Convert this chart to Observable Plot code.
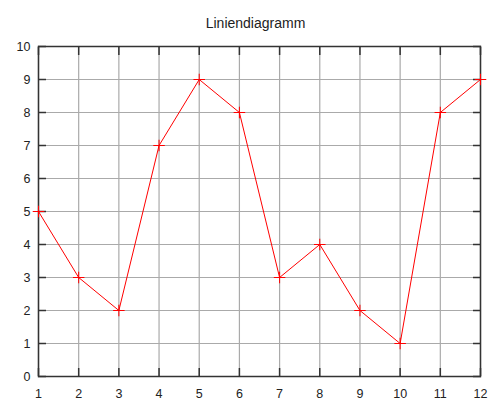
<!DOCTYPE html>
<html>
<head>
<meta charset="utf-8">
<script src="https://cdn.jsdelivr.net/npm/d3@7"></script>
<script src="https://cdn.jsdelivr.net/npm/@observablehq/plot@0.6"></script>
<style>
  html, body { margin: 0; padding: 0; background: #fff; }
  #chart svg { display: block; }
</style>
</head>
<body>
<div id="chart"></div>
<script>
// Line chart: one value per position 1..12
const positions = [1, 2, 3, 4, 5, 6, 7, 8, 9, 10, 11, 12];
const values = [5, 3, 2, 7, 9, 8, 3, 4, 2, 1, 8, 9];
const yTicks = [0, 1, 2, 3, 4, 5, 6, 7, 8, 9, 10];
const title = "Liniendiagramm";

const data = positions.map((x, i) => ({x, y: values[i]}));
const font = "'Liberation Sans', Arial, sans-serif";

const chart = Plot.plot({
  width: 491,
  height: 401,
  marginLeft: 38,
  marginRight: 11,
  marginTop: 46,
  marginBottom: 25,
  style: {fontFamily: font, fontSize: "12px", color: "#222", background: "#fff"},
  x: {domain: [1, 12]},
  y: {domain: [0, 10]},
  marks: [
    // grid
    Plot.gridX(positions, {stroke: "#aaaaaa", strokeOpacity: 1, strokeWidth: 1.2}),
    Plot.gridY(yTicks, {stroke: "#aaaaaa", strokeOpacity: 1, strokeWidth: 1.2}),
    // labels
    Plot.axisX(positions, {anchor: "bottom", tickSize: 0, tickPadding: 13, label: null, fontSize: 12.5}),
    Plot.axisY(yTicks, {anchor: "left", tickSize: 0, tickPadding: 8, label: null, fontSize: 12.5}),
    // inward ticks on all four sides
    Plot.axisX(positions, {anchor: "bottom", tickSize: -8, text: null, label: null, stroke: "#333", strokeWidth: 1.5}),
    Plot.axisX(positions, {anchor: "top", tickSize: -8, text: null, label: null, stroke: "#333", strokeWidth: 1.5}),
    Plot.axisY(yTicks, {anchor: "left", tickSize: -8, text: null, label: null, stroke: "#333", strokeWidth: 1.5}),
    Plot.axisY(yTicks, {anchor: "right", tickSize: -8, text: null, label: null, stroke: "#333", strokeWidth: 1.5}),
    Plot.frame({stroke: "#333", strokeWidth: 1.5}),
    // series
    Plot.line(data, {x: "x", y: "y", stroke: "#ff0000", strokeWidth: 1}),
    Plot.dot(data, {x: "x", y: "y", symbol: "plus", stroke: "#ff0000", strokeWidth: 1, r: 3.8}),
    // title
    Plot.text([title], {frameAnchor: "top", text: d => d, dy: -28, dx: -4, fontSize: 14, fill: "#222"})
  ]
});

document.getElementById("chart").append(chart);
</script>
</body>
</html>
